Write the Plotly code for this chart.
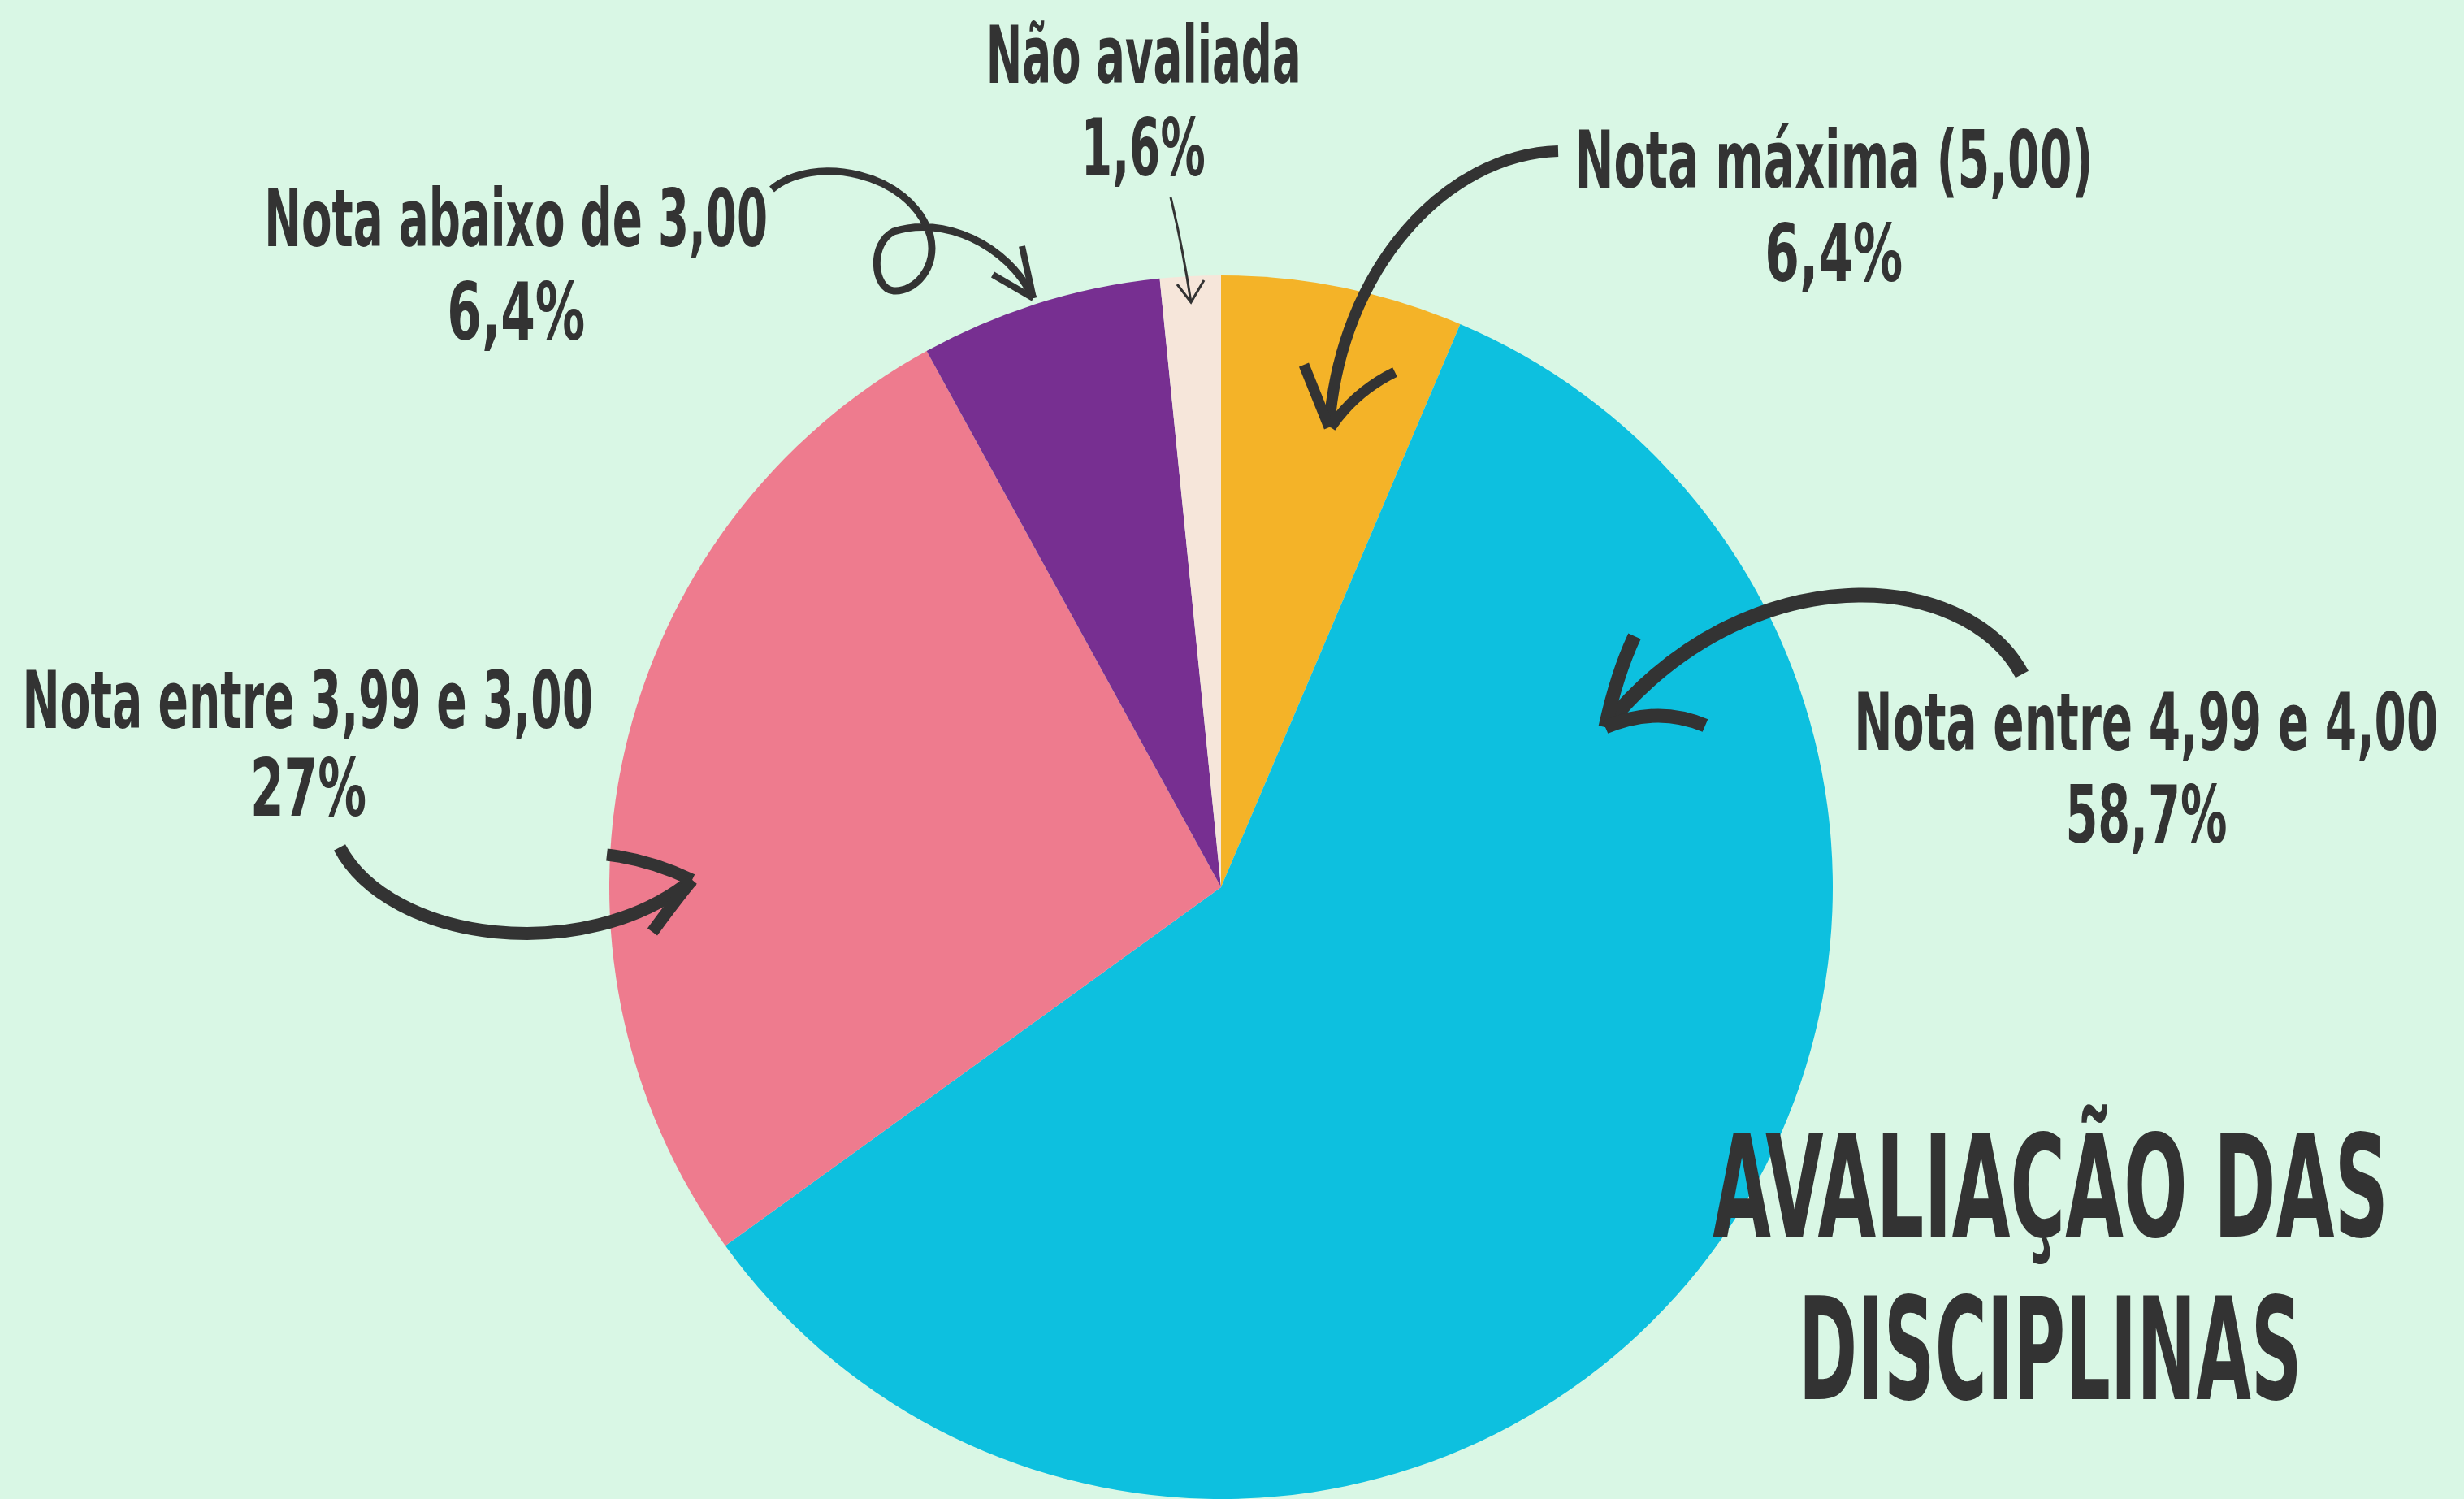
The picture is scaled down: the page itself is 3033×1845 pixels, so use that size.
import json
import plotly.graph_objects as go

# ---- data ----
labels = ["Nota máxima (5,00)", "Nota entre 4,99 e 4,00", "Nota entre 3,99 e 3,00",
          "Nota abaixo de 3,00", "Não avaliada"]
values = [6.4, 58.7, 27.0, 6.4, 1.6]
pct_labels = ["6,4%", "58,7%", "27%", "6,4%", "1,6%"]
colors = ["#F4B328", "#0DC0DF", "#EE7B8E", "#772F91", "#F6E6DA"]
title_lines = ["AVALIAÇÃO DAS", "DISCIPLINAS"]

# ---- layout constants (pixels in a 3033x1845 canvas) ----
W, H = 3033, 1845
BG = "#D9F7E5"
INK = "#333333"
FONT = "DejaVu Sans Condensed, DejaVu Sans, sans-serif"
LABEL_SIZE = 98
TITLE_SIZE = 174

# label placement: (x center, line1 y, line2 y)
label_pos = [(2257, 197, 312), (2642, 889, 1003), (379, 862, 970),
             (635, 269, 384), (1407, 68, 182)]
# rendered width of each label line / percentage (px), used to condense glyphs
label_widths = [(638, 170), (719, 199), (703, 143), (620, 170), (388, 153)]
title_pos = [(2524, 1461), (2524, 1661)]
title_widths = [832, 620]


def px(x):
    return x / W


def py(y):
    return 1 - y / H


def path(cmds):
    out = []
    for c in cmds:
        if isinstance(c, str):
            out.append(c)
        else:
            out.append(f"{px(c[0]):.5f},{py(c[1]):.5f}")
    return " ".join(out)


fig = go.Figure(go.Pie(
    labels=labels, values=values,
    marker=dict(colors=colors, line=dict(width=0)),
    sort=False, direction="clockwise", rotation=0,
    textinfo="none", hoverinfo="label+percent", showlegend=False,
    domain=dict(x=[px(749), px(2257)], y=[0, py(339)]),
))

annotations = []
widths = []
for (x, y1, y2), (w1, w2), lab, pct in zip(label_pos, label_widths, labels, pct_labels):
    for txt, yy, ww in ((lab, y1, w1), (pct, y2, w2)):
        annotations.append(dict(
            text=txt, x=px(x), y=py(yy), xref="paper", yref="paper",
            xanchor="center", yanchor="middle", showarrow=False,
            font=dict(family=FONT, size=LABEL_SIZE, color=INK, weight="bold")))
        widths.append(ww)
for (x, y), txt, ww in zip(title_pos, title_lines, title_widths):
    annotations.append(dict(
        text=txt, x=px(x), y=py(y), xref="paper", yref="paper",
        xanchor="center", yanchor="middle", showarrow=False,
        font=dict(family=FONT, size=TITLE_SIZE, color=INK, weight="bold")))
    widths.append(ww)

# decorative hand-drawn style arrows
arrows = [
    # Nota máxima
    (["M", (1918, 186), "C", (1780, 190), (1650, 330), (1636, 526)], 14),
    (["M", (1605, 449), "L", (1636, 526)], 13),
    (["M", (1717, 458), "Q", (1668, 482), (1638, 526)], 13),
    # Nota entre 4,99 e 4,00
    (["M", (2489, 830), "C", (2420, 700), (2150, 680), (1976, 895)], 18),
    (["M", (2012, 783), "Q", (1990, 830), (1976, 895)], 17),
    (["M", (2099, 893), "Q", (2040, 868), (1976, 895)], 17),
    # Nota entre 3,99 e 3,00
    (["M", (418, 1043), "C", (480, 1160), (720, 1190), (852, 1083)], 16),
    (["M", (747, 1052), "Q", (800, 1058), (852, 1083)], 15),
    (["M", (803, 1147), "Q", (830, 1110), (852, 1083)], 15),
    # Nota abaixo de 3,00
    (["M", (950, 233), "C", (1000, 190), (1120, 210), (1145, 290),
      "C", (1155, 330), (1125, 360), (1100, 358),
      "C", (1075, 356), (1070, 300), (1100, 285),
      "C", (1160, 265), (1240, 300), (1272, 367)], 9),
    (["M", (1222, 338), "L", (1272, 367)], 8),
    (["M", (1258, 303), "L", (1272, 367)], 8),
    # Não avaliada
    (["M", (1441, 243), "Q", (1455, 300), (1466, 372)], 3),
    (["M", (1449, 350), "L", (1466, 372), "L", (1482, 345)], 3),
]
shapes = [dict(type="path", xref="paper", yref="paper", path=path(p),
               line=dict(color=INK, width=w), fillcolor="rgba(0,0,0,0)",
               layer="above")
          for p, w in arrows]

fig.update_layout(
    width=W, height=H, autosize=False,
    margin=dict(l=0, r=0, t=0, b=0, pad=0),
    paper_bgcolor=BG, plot_bgcolor=BG,
    showlegend=False,
    annotations=annotations, shapes=shapes,
)

# page styling: no body margin, and condense the label glyphs horizontally
post = """
document.body.style.margin = '0';
document.body.style.background = '%s';
var widths = %s;
var gd = document.getElementById('{plot_id}');
gd.querySelectorAll('.annotation-text').forEach(function(t, i){
  var w = t.getBBox().width;
  var s = (w > 0 && widths[i]) ? Math.min(1, widths[i] / w) : 0.62;
  t.style.transformBox = 'fill-box';
  t.style.transformOrigin = 'center';
  t.style.transform = 'scaleX(' + s + ')';
});
""" % (BG, json.dumps(widths))

fig.write_html("out.html", config=dict(displayModeBar=False), post_script=post)
